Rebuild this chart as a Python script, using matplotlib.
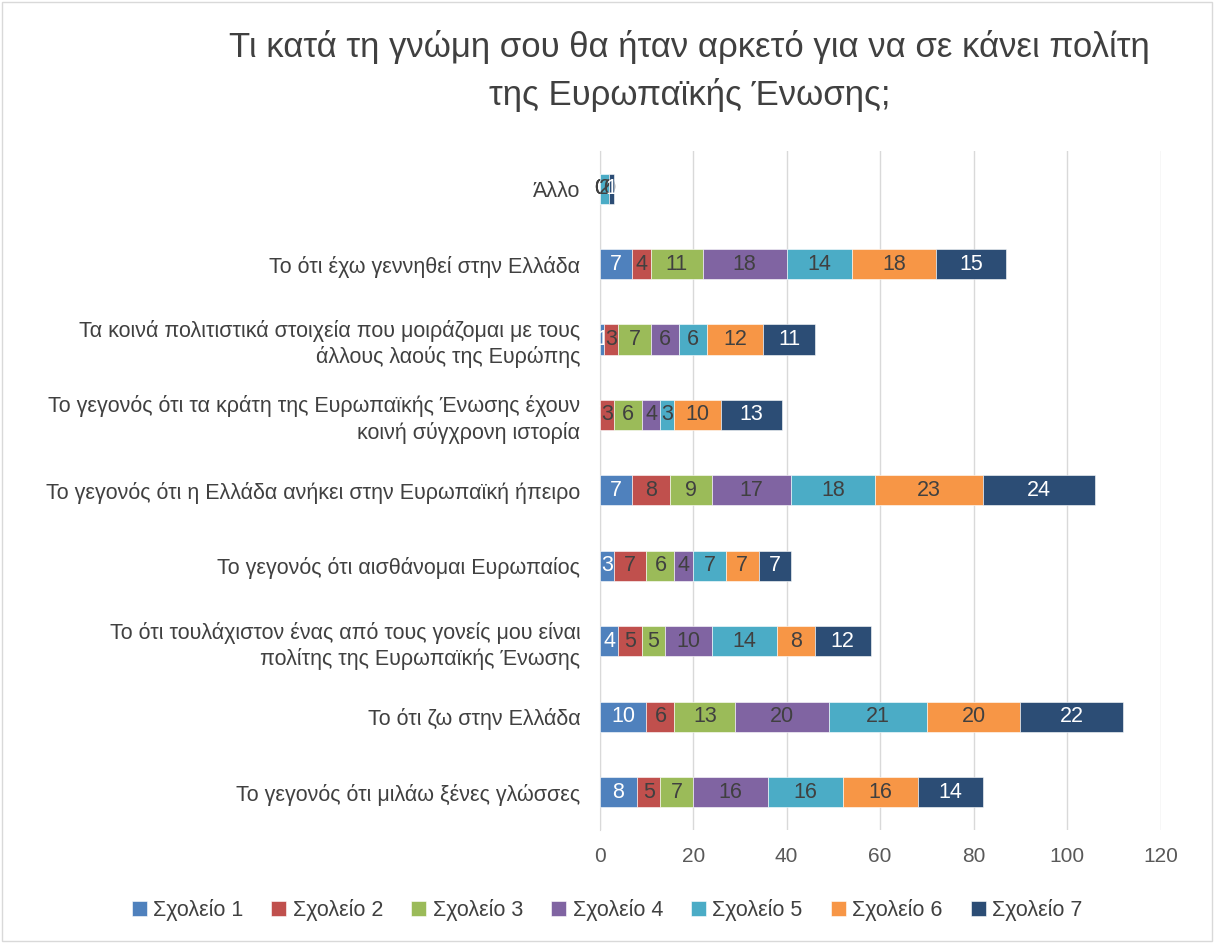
import numpy as np
import matplotlib.pyplot as plt
from matplotlib.patches import Rectangle

plt.rcParams['font.family'] = ['Liberation Sans', 'DejaVu Sans']

categories = [
    'Άλλο',
    'Το ότι έχω γεννηθεί στην Ελλάδα',
    'Τα κοινά πολιτιστικά στοιχεία που μοιράζομαι με τους\nάλλους λαούς της Ευρώπης',
    'Το γεγονός ότι τα κράτη της Ευρωπαϊκής Ένωσης έχουν\nκοινή σύγχρονη ιστορία',
    'Το γεγονός ότι η Ελλάδα ανήκει στην Ευρωπαϊκή ήπειρο',
    'Το γεγονός ότι αισθάνομαι Ευρωπαίος',
    'Το ότι τουλάχιστον ένας από τους γονείς μου είναι\nπολίτης της Ευρωπαϊκής Ένωσης',
    'Το ότι ζω στην Ελλάδα',
    'Το γεγονός ότι μιλάω ξένες γλώσσες',
]
series_names = ['Σχολείο 1', 'Σχολείο 2', 'Σχολείο 3', 'Σχολείο 4',
                'Σχολείο 5', 'Σχολείο 6', 'Σχολείο 7']

school1 = [0, 7, 1, 0, 7, 3, 4, 10, 8]
school2 = [0, 4, 3, 3, 8, 7, 5, 6, 5]
school3 = [0, 11, 7, 6, 9, 6, 5, 13, 7]
school4 = [0, 18, 6, 4, 17, 4, 10, 20, 16]
school5 = [2, 14, 6, 3, 18, 7, 14, 21, 16]
school6 = [0, 18, 12, 10, 23, 7, 8, 20, 16]
school7 = [1, 15, 11, 13, 24, 7, 12, 22, 14]

series = [school1, school2, school3, school4, school5, school6, school7]
colors = ['#4F81BD', '#C0504D', '#9BBB59', '#8064A2', '#4BACC6', '#F79646', '#2C4D75']
label_colors = ['white', '#404040', '#404040', '#404040', '#404040', '#404040', 'white']

fig = plt.figure(figsize=(12.14, 9.43), dpi=100)
ax = fig.add_axes([0.494, 0.12, 0.462, 0.72])

y = np.arange(len(categories))
left = np.zeros(len(categories))
for name, vals, c, lc in zip(series_names, series, colors, label_colors):
    vals = np.array(vals, dtype=float)
    bars = ax.barh(y, vals, left=left, height=0.4, color=c, label=name,
                   edgecolor='white', linewidth=0.4, zorder=3)
    ax.bar_label(bars, labels=[f'{int(v)}' for v in vals], label_type='center',
                 color=lc, fontsize=15.5)
    left += vals

ax.set_xlim(0, 120)
ax.set_ylim(len(categories) - 0.5, -0.5)
ax.set_xticks(np.arange(0, 121, 20))
ax.set_yticks(y)
ax.set_yticklabels(categories, fontsize=15.5, color='#404040', linespacing=1.25)
ax.tick_params(axis='x', labelsize=15, labelcolor='#595959', length=0, pad=12)
ax.tick_params(axis='y', length=0, pad=14)
ax.grid(axis='x', color='#D9D9D9', linewidth=1, zorder=0)
for s in ['top', 'right', 'bottom']:
    ax.spines[s].set_visible(False)
ax.spines['left'].set_color('#D9D9D9')

fig.text(0.568, 0.968, 'Τι κατά τη γνώμη σου θα ήταν αρκετό για να σε κάνει πολίτη\nτης Ευρωπαϊκής Ένωσης;',
         ha='center', va='top', fontsize=25, color='#404040', linespacing=1.5)

fig.legend(loc='center', bbox_to_anchor=(0.5, 0.035), ncol=7, frameon=False,
           fontsize=15.5, handlelength=0.7, handleheight=0.7, columnspacing=1.3,
           handletextpad=0.3, labelcolor='#404040')

fig.patches.append(Rectangle((0.002, 0.002), 0.996, 0.996, transform=fig.transFigure,
                             fill=False, edgecolor='#D9D9D9', linewidth=1))

plt.savefig('out.png', dpi=100)
